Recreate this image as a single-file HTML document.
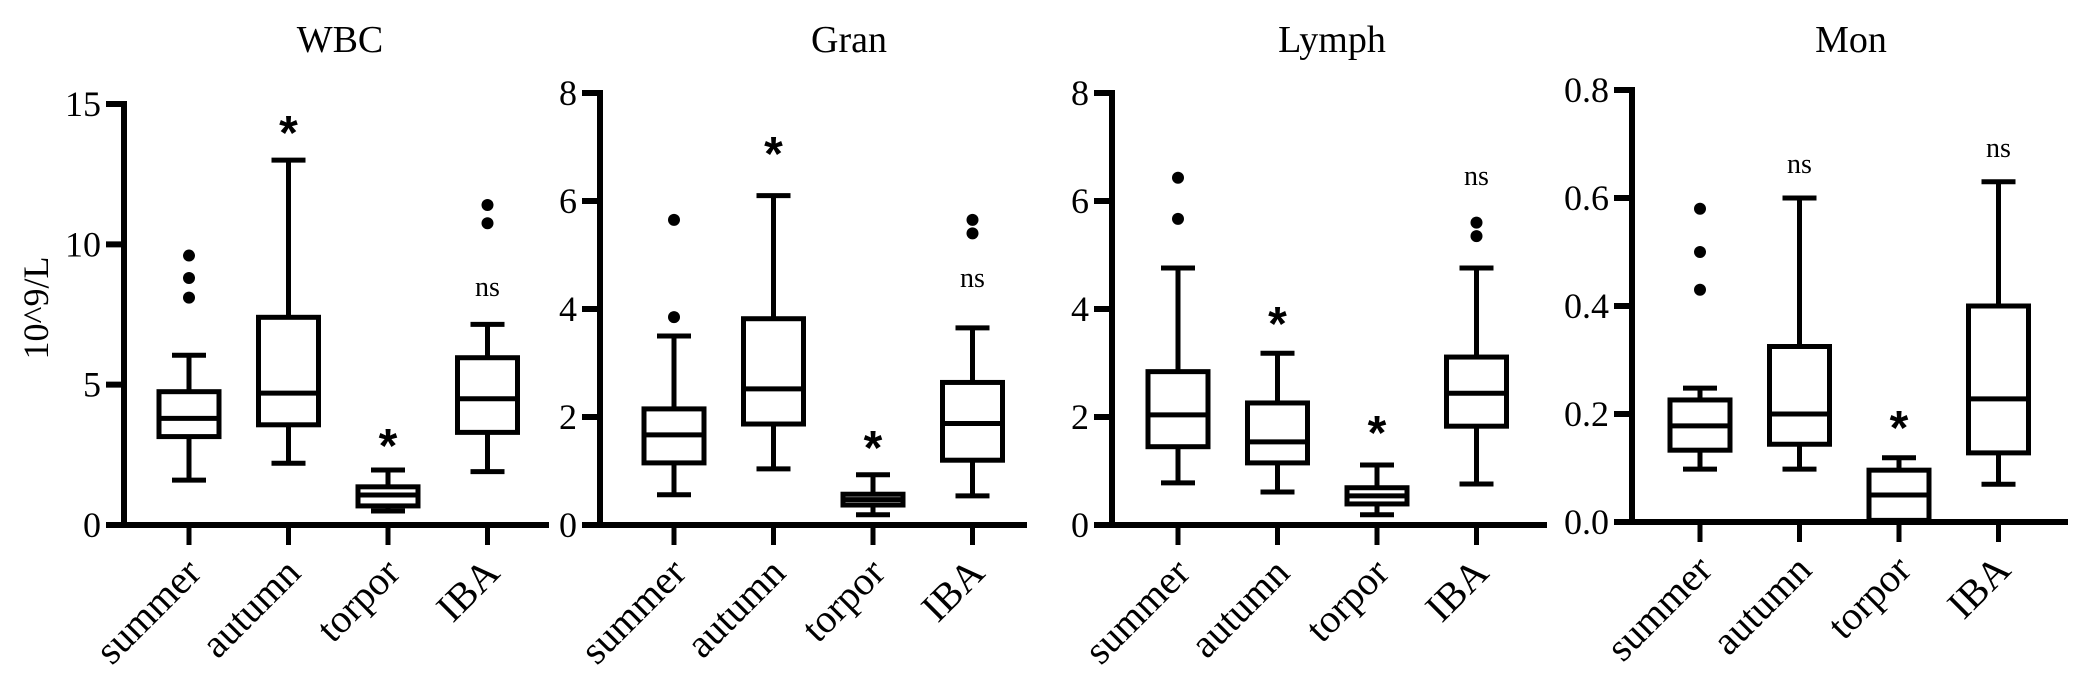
<!DOCTYPE html>
<html><head><meta charset="utf-8"><style>
html,body{margin:0;padding:0;background:#fff;}
svg{display:block;}
text{font-family:"Liberation Serif",serif;fill:#000;}
</style></head><body>
<svg id="chart" width="2081" height="696" viewBox="0 0 2081 696" xmlns="http://www.w3.org/2000/svg">
<text x="0" y="0" font-size="36" text-anchor="middle" transform="translate(48,308) rotate(-90)">10^9/L</text>
</svg>
<script>
const categories = ['summer','autumn','torpor','IBA'];
const panelTitles = ['WBC','Gran','Lymph','Mon'];

const wbcLow  = [1.6, 2.2, 0.5, 1.9];
const wbcQ1   = [3.15, 3.57, 0.68, 3.3];
const wbcMed  = [3.8, 4.7, 1.07, 4.5];
const wbcQ3   = [4.75, 7.4, 1.36, 5.96];
const wbcHigh = [6.05, 13.0, 1.96, 7.15];
const wbcOutliers = [[9.6, 8.8, 8.1], [], [], [11.4, 10.75]];
const wbcSig = ['', '*', '*', 'ns'];
const wbcSigPos = [0, 14.36, 3.2, 8.4];
const wbcTicks = [0, 5, 10, 15];
const wbcTickLabels = ['0', '5', '10', '15'];

const granLow  = [0.56, 1.04, 0.19, 0.54];
const granQ1   = [1.15, 1.87, 0.37, 1.2];
const granMed  = [1.67, 2.52, 0.47, 1.88];
const granQ3   = [2.15, 3.82, 0.57, 2.64];
const granHigh = [3.5, 6.1, 0.93, 3.65];
const granOutliers = [[5.65, 3.85], [], [], [5.65, 5.4]];
const granSig = ['', '*', '*', 'ns'];
const granSigPos = [0, 7.07, 1.63, 4.54];
const granTicks = [0, 2, 4, 6, 8];
const granTickLabels = ['0', '2', '4', '6', '8'];

const lymphLow  = [0.78, 0.61, 0.19, 0.76];
const lymphQ1   = [1.45, 1.15, 0.39, 1.83];
const lymphMed  = [2.04, 1.54, 0.54, 2.44];
const lymphQ3   = [2.84, 2.26, 0.69, 3.11];
const lymphHigh = [4.76, 3.18, 1.11, 4.76];
const lymphOutliers = [[6.43, 5.67], [], [], [5.6, 5.35]];
const lymphSig = ['', '*', '*', 'ns'];
const lymphSigPos = [0, 3.93, 1.91, 6.43];
const lymphTicks = [0, 2, 4, 6, 8];
const lymphTickLabels = ['0', '2', '4', '6', '8'];

const monLow  = [0.098, 0.098, 0.0, 0.07];
const monQ1   = [0.133, 0.144, 0.003, 0.128];
const monMed  = [0.178, 0.2, 0.05, 0.228];
const monQ3   = [0.226, 0.325, 0.096, 0.40];
const monHigh = [0.248, 0.6, 0.119, 0.63];
const monOutliers = [[0.58, 0.50, 0.43], [], [], []];
const monSig = ['', 'ns', '*', 'ns'];
const monSigPos = [0, 0.659, 0.194, 0.689];
const monTicks = [0, 0.2, 0.4, 0.6, 0.8];
const monTickLabels = ['0.0', '0.2', '0.4', '0.6', '0.8'];

const NS = 'http://www.w3.org/2000/svg';
const svg = document.getElementById('chart');
function mk(tag, attrs, parent) {
  const e = document.createElementNS(NS, tag);
  for (const k in attrs) e.setAttribute(k, attrs[k]);
  (parent || svg).appendChild(e);
  return e;
}

const panels = [
  {key:'wbc', title:panelTitles[0], axisX:124, right:549, y0:525, yTop:104, max:15, off:65, low:wbcLow, q1:wbcQ1, med:wbcMed, q3:wbcQ3, high:wbcHigh, out:wbcOutliers, sig:wbcSig, sigPos:wbcSigPos, ticks:wbcTicks, labels:wbcTickLabels, titleX:340},
  {key:'gran', title:panelTitles[1], axisX:600, right:1027, y0:525, yTop:93, max:8, off:74, low:granLow, q1:granQ1, med:granMed, q3:granQ3, high:granHigh, out:granOutliers, sig:granSig, sigPos:granSigPos, ticks:granTicks, labels:granTickLabels, titleX:849},
  {key:'lymph', title:panelTitles[2], axisX:1112, right:1547, y0:525, yTop:93, max:8, off:66, low:lymphLow, q1:lymphQ1, med:lymphMed, q3:lymphQ3, high:lymphHigh, out:lymphOutliers, sig:lymphSig, sigPos:lymphSigPos, ticks:lymphTicks, labels:lymphTickLabels, titleX:1332},
  {key:'mon', title:panelTitles[3], axisX:1632, right:2068, y0:522, yTop:90, max:0.8, off:68, low:monLow, q1:monQ1, med:monMed, q3:monQ3, high:monHigh, out:monOutliers, sig:monSig, sigPos:monSigPos, ticks:monTicks, labels:monTickLabels, titleX:1851}
];
const spacing = 99.5;
const boxW = 60, capW = 34, LW = 5;

panels.forEach(p => {
  const g = mk('g', {});
  
  
  const yS = v => p.y0 - (v / p.max) * (p.y0 - p.yTop);
  const xS = i => p.axisX + p.off + i * spacing;

  const t = mk('text', {x:p.titleX, y:52, 'font-size':38, 'text-anchor':'middle'}, g);
  t.textContent = p.title;
  
  

  // axes
  const ya = mk('line', {x1:p.axisX, y1:yS(p.max)-3, x2:p.axisX, y2:p.y0+3, stroke:'#000', 'stroke-width':6}, g);
  
  
  const xa = mk('line', {x1:p.axisX-18, y1:p.y0, x2:p.right, y2:p.y0, stroke:'#000', 'stroke-width':6}, g);
  
  

  p.ticks.forEach((v, i) => {
    const y = yS(v);
    const tk = mk('line', {x1:p.axisX-18, y1:y, x2:p.axisX, y2:y, stroke:'#000', 'stroke-width':6}, g);
    
    
    const tl = mk('text', {x:p.axisX-23, y:y+12, 'font-size':36, 'text-anchor':'end'}, g);
    tl.textContent = p.labels[i];
    
    
  });

  categories.forEach((c, i) => {
    const x = xS(i);
    const ct = mk('line', {x1:x, y1:p.y0, x2:x, y2:p.y0+20, stroke:'#000', 'stroke-width':5}, g);
    
    
    const cl = mk('text', {x:0, y:0, 'font-size':40, 'text-anchor':'end', transform:'translate(' + (x+14) + ',' + (p.y0+50) + ') rotate(-45)'}, g);
    cl.textContent = c;
    
    

    const bg = mk('g', {}, g);
    
    
    const st = {stroke:'#000', 'stroke-width':LW, fill:'none'};
    mk('line', Object.assign({x1:x, y1:yS(p.high[i]), x2:x, y2:yS(p.q3[i])}, st), bg);
    mk('line', Object.assign({x1:x, y1:yS(p.q1[i]), x2:x, y2:yS(p.low[i])}, st), bg);
    mk('line', Object.assign({x1:x-capW/2, y1:yS(p.high[i]), x2:x+capW/2, y2:yS(p.high[i])}, st), bg);
    mk('line', Object.assign({x1:x-capW/2, y1:yS(p.low[i]), x2:x+capW/2, y2:yS(p.low[i])}, st), bg);
    mk('rect', Object.assign({x:x-boxW/2, y:yS(p.q3[i]), width:boxW, height:Math.max(1, yS(p.q1[i])-yS(p.q3[i])), fill:'#fff'}, {stroke:'#000', 'stroke-width':LW}), bg);
    mk('line', Object.assign({x1:x-boxW/2, y1:yS(p.med[i]), x2:x+boxW/2, y2:yS(p.med[i])}, st), bg);

    p.out[i].forEach(v => {
      const d = mk('circle', {cx:x, cy:yS(v), r:6, fill:'#000'}, g);
      
      
    });

    if (p.sig[i]) {
      const cy = yS(p.sigPos[i]);
      let s;
      if (p.sig[i] === '*') {
        s = mk('text', {x:x, y:cy+27, 'font-size':48, 'font-weight':'bold', 'text-anchor':'middle', style:'font-family:"Liberation Sans",sans-serif'}, g);
      } else {
        s = mk('text', {x:x, y:cy+7, 'font-size':28, 'text-anchor':'middle'}, g);
      }
      s.textContent = p.sig[i];
      
      
    }
  });
});
</script>
</body></html>
